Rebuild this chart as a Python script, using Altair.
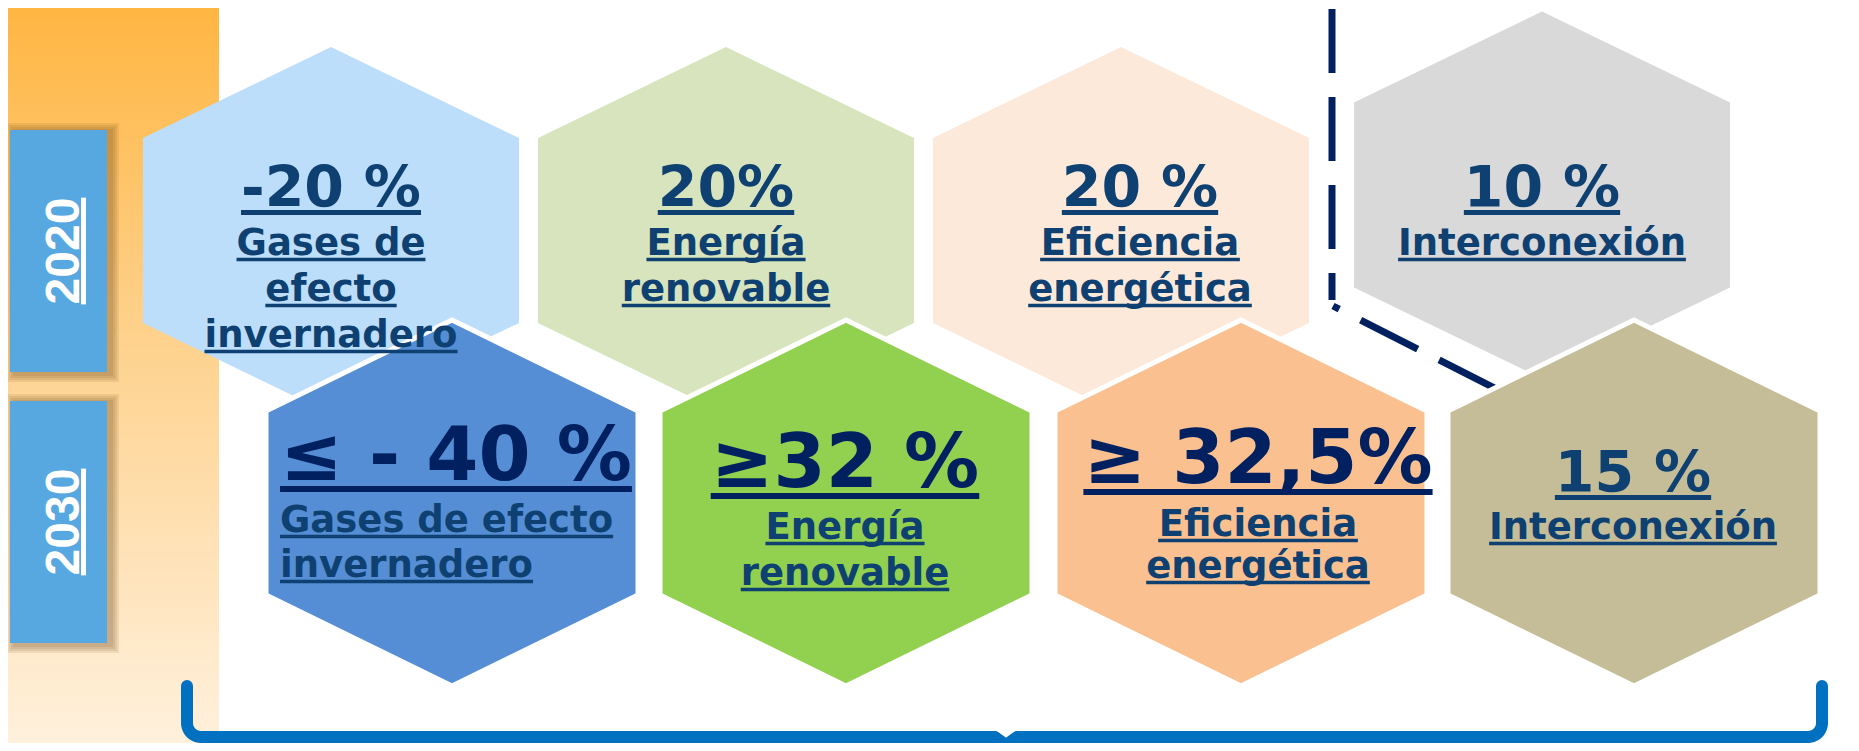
import math
import altair as alt
import pandas as pd

# ---------------- content ----------------
years = ["2020", "2030"]
values_2020 = ["-20 %", "20%", "20 %", "10 %"]
labels_2020 = [["Gases de", "efecto", "invernadero"],
               ["Energía", "renovable"],
               ["Eficiencia", "energética"],
               ["Interconexión"]]
values_2030 = ["≤ - 40 %", "≥32 %", "≥ 32,5%", "15 %"]
labels_2030 = [["Gases de efecto", "invernadero"],
               ["Energía", "renovable"],
               ["Eficiencia", "energética"],
               ["Interconexión"]]

# ---------------- styles ----------------
FILL_2020 = ["#BDDEFB", "#D7E4BD", "#FCE9DA", "#D9D9D9"]
FILL_2030 = ["#558ED5", "#92D050", "#FAC090", "#C4BD97"]
NAVY = "#0E4171"
DARK = "#002060"
BRACE = "#0070C0"
YEARBOX = "#57A7E1"
FONT = "DejaVu Sans"

# ---------------- layout (pixels of the 1859x751 canvas) ----------------
X_DOM = [8, 1851]
Y_DOM = [8, 743]
W, H = 1843, 735

ROW1_CX = [331, 726, 1121, 1542]
ROW1_CY = [230.5, 230.5, 230.5, 195]
ROW1_HW, ROW1_HH, ROW1_TIP = 188, 183.5, 91
ROW1_TX = [331, 726, 1140, 1542]
ROW1_BIG_BASE = 207
ROW1_SUB_BASE = 255
ROW1_SUB_STEP = 46

ROW2_CX = [452, 846, 1241, 1634]
ROW2_CY = 503
ROW2_HW, ROW2_HH, ROW2_TIP = 186, 183, 91
ROW2_TX = [280, 845, 1258, 1633]
ROW2_ALIGN = ["left", "center", "center", "center"]
ROW2_BIG_BASE = [480, 487, 483, 492]
ROW2_BIG_SIZE = [75, 75, 75, 57]
ROW2_BIG_COLOR = [DARK, DARK, DARK, NAVY]
ROW2_SUB_BASE = [[532, 577], [539, 585], [536, 578], [539]]

BIG1 = 57
SUB = 37

YEAR_BOX_X = (10, 107)
YEAR_BOX_Y = [(130, 372), (401, 643)]

xs = alt.Scale(domain=X_DOM, nice=False, zero=False)
ys = alt.Scale(domain=Y_DOM, nice=False, zero=False, reverse=True)
X = lambda f: alt.X(f, scale=xs, axis=None)
Y = lambda f: alt.Y(f, scale=ys, axis=None)

# approximate DejaVu Sans Bold advance widths (em) for underline lengths
ADV = {' ': 0.348, '%': 1.002, ',': 0.380, '-': 0.416, 'E': 0.683, 'G': 0.821,
       'I': 0.372, 'a': 0.675, 'b': 0.716, 'c': 0.593, 'd': 0.716, 'e': 0.678,
       'é': 0.678, 'f': 0.435, 'g': 0.716, 'i': 0.343, 'í': 0.343, 'l': 0.343,
       'n': 0.712, 'o': 0.687, 'ó': 0.687, 'r': 0.493, 's': 0.595, 't': 0.478,
       'v': 0.652, 'x': 0.635, '≤': 0.838, '≥': 0.838}
for d in "0123456789":
    ADV[d] = 0.696


def text_width(s, size):
    return sum(ADV.get(c, 0.65) for c in s) * size


# ---------------- hexagons (custom symbol shapes) ----------------
def hex_path(hw, hh, tip):
    t = hh / hw
    s = (hh - tip) / hw
    return (f"M 0 {-t:.4f} L 1 {-s:.4f} L 1 {s:.4f} L 0 {t:.4f} "
            f"L -1 {s:.4f} L -1 {-s:.4f} Z")


hex1 = pd.DataFrame(dict(x=ROW1_CX, y=ROW1_CY, fill=FILL_2020))
hex2 = pd.DataFrame(dict(x=ROW2_CX, y=[ROW2_CY] * 4, fill=FILL_2030))

hex1_layer = alt.Chart(hex1).mark_point(
    shape=hex_path(ROW1_HW, ROW1_HH, ROW1_TIP), filled=True, opacity=1,
    size=(2 * ROW1_HW) ** 2, strokeWidth=0
).encode(x=X("x:Q"), y=Y("y:Q"), color=alt.Color("fill:N", scale=None))

hex2_layer = alt.Chart(hex2).mark_point(
    shape=hex_path(ROW2_HW, ROW2_HH, ROW2_TIP), filled=True, opacity=1,
    size=(2 * ROW2_HW) ** 2, stroke="white", strokeWidth=5
).encode(x=X("x:Q"), y=Y("y:Q"), color=alt.Color("fill:N", scale=None))

# ---------------- texts + underlines ----------------
t_center, t_left, ul = [], [], []


def add_line(s, x, base, size, color, align, ul_off, ul_w):
    w = text_width(s, size)
    rec = dict(x=x, y=base, text=s, size=size, color=color)
    (t_left if align == "left" else t_center).append(rec)
    x1 = x if align == "left" else x - w / 2
    ul.append(dict(x=x1, x2=x1 + w, y=base + ul_off, w=ul_w, color=color))


for j, v in enumerate(values_2020):
    add_line(v, ROW1_TX[j], ROW1_BIG_BASE, BIG1, NAVY, "center", 5.5, 5)
    for n, lab in enumerate(labels_2020[j]):
        add_line(lab, ROW1_TX[j], ROW1_SUB_BASE + n * ROW1_SUB_STEP, SUB, NAVY,
                 "center", 4.5, 3.5)

for j, v in enumerate(values_2030):
    big = ROW2_BIG_SIZE[j]
    add_line(v, ROW2_TX[j], ROW2_BIG_BASE[j], big, ROW2_BIG_COLOR[j],
             ROW2_ALIGN[j], 9 if big > 60 else 5.5, 6 if big > 60 else 5)
    for n, lab in enumerate(labels_2030[j]):
        add_line(lab, ROW2_TX[j], ROW2_SUB_BASE[j][n], SUB, NAVY,
                 ROW2_ALIGN[j], 4.5, 3.5)


def text_layer(rows, align):
    return alt.Chart(pd.DataFrame(rows)).mark_text(
        font=FONT, fontWeight="bold", baseline="alphabetic", align=align
    ).encode(
        x=X("x:Q"), y=Y("y:Q"), text="text:N",
        size=alt.Size("size:Q", scale=None),
        color=alt.Color("color:N", scale=None),
    )


ul_layer = alt.Chart(pd.DataFrame(ul)).mark_rule(strokeCap="butt").encode(
    x=X("x:Q"), x2="x2:Q", y=Y("y:Q"),
    strokeWidth=alt.StrokeWidth("w:Q", scale=None),
    color=alt.Color("color:N", scale=None),
)

# ---------------- left orange strip ----------------
strip = alt.Chart(pd.DataFrame([dict(x=0, x2=219, y=0, y2=760)])).mark_rect(
    color=alt.LinearGradient(
        gradient="linear", x1=0, x2=0, y1=0, y2=1,
        stops=[alt.GradientStop(color="#FFB540", offset=0),
               alt.GradientStop(color="#FECF86", offset=0.4),
               alt.GradientStop(color="#FFF2E0", offset=1)])
).encode(x=X("x:Q"), x2="x2:Q", y=Y("y:Q"), y2="y2:Q")

# ---------------- year boxes ----------------
shadow_rows = []
for (y1, y2) in YEAR_BOX_Y:
    for e in [8, 6, 4, 2]:
        shadow_rows.append(dict(x=YEAR_BOX_X[0] + 5 - e, x2=YEAR_BOX_X[1] + 4 + e,
                                y=y1 + 1 - e, y2=y2 + 2 + e))
shadow = alt.Chart(pd.DataFrame(shadow_rows)).mark_rect(
    color="#6B4A18", opacity=0.11
).encode(x=X("x:Q"), x2="x2:Q", y=Y("y:Q"), y2="y2:Q")

box_rows = [dict(x=YEAR_BOX_X[0], x2=YEAR_BOX_X[1], y=a, y2=b) for a, b in YEAR_BOX_Y]
boxes = alt.Chart(pd.DataFrame(box_rows)).mark_rect(color=YEARBOX).encode(
    x=X("x:Q"), x2="x2:Q", y=Y("y:Q"), y2="y2:Q")

YEAR_SIZE = 48
year_len = 0.556 * 4 * YEAR_SIZE
year_rows = [dict(x=79, y=(a + b) / 2, text=yr) for yr, (a, b) in zip(years, YEAR_BOX_Y)]
year_text = alt.Chart(pd.DataFrame(year_rows)).mark_text(
    font="Liberation Sans", fontWeight="bold", fontSize=YEAR_SIZE, color="white",
    angle=270, align="center", baseline="alphabetic"
).encode(x=X("x:Q"), y=Y("y:Q"), text="text:N")
year_ul_rows = [dict(x=83.5, y=(a + b) / 2 - year_len / 2, y2=(a + b) / 2 + year_len / 2)
                for (a, b) in YEAR_BOX_Y]
year_ul = alt.Chart(pd.DataFrame(year_ul_rows)).mark_rule(
    color="white", strokeWidth=5, strokeCap="butt"
).encode(x=X("x:Q"), y=Y("y:Q"), y2="y2:Q")

# ---------------- dashed separator ----------------
dash_v = alt.Chart(pd.DataFrame([dict(x=1332, y=9, y2=300)])).mark_rule(
    color=DARK, strokeWidth=7, strokeDash=[64, 24], strokeCap="butt"
).encode(x=X("x:Q"), y=Y("y:Q"), y2="y2:Q")
dash_d = alt.Chart(pd.DataFrame([dict(x=1333, x2=1510, y=306, y2=396)])).mark_rule(
    color=DARK, strokeWidth=7, strokeDash=[64, 24], strokeDashOffset=57, strokeCap="butt"
).encode(x=X("x:Q"), x2="x2:Q", y=Y("y:Q"), y2="y2:Q")

# ---------------- bottom brace ----------------
BR_L, BR_R, BR_TOP, BR_Y, BR_MID, R = 187, 1822, 686, 737, 1006, 14
pts = [(BR_L, BR_TOP)]
for a in range(0, 91, 10):
    t = math.radians(180 - a)
    pts.append((BR_L + R + R * math.cos(t), BR_Y - R + R * math.sin(math.radians(a))))
pts += [(BR_MID - 11, BR_Y), (BR_MID, BR_Y + 8), (BR_MID + 11, BR_Y)]
for a in range(90, -1, -10):
    t = math.radians(a)
    pts.append((BR_R - R + R * math.cos(t), BR_Y - R + R * math.sin(t)))
pts.append((BR_R, BR_TOP))
brace = alt.Chart(pd.DataFrame([dict(i=i, x=p[0], y=p[1]) for i, p in enumerate(pts)])).mark_line(
    color=BRACE, strokeWidth=12, strokeCap="round", strokeJoin="round"
).encode(x=X("x:Q"), y=Y("y:Q"), order="i:Q")

chart = alt.layer(
    strip, shadow, boxes, year_text, year_ul,
    hex1_layer, dash_v, dash_d, hex2_layer,
    text_layer(t_center, "center"), text_layer(t_left, "left"), ul_layer,
    brace,
).properties(
    width=W, height=H, padding=0, autosize=alt.AutoSizeParams(type="none"),
    background="white",
).configure_view(stroke=None)

chart.save("out.html", embed_options={"renderer": "svg", "actions": False})
